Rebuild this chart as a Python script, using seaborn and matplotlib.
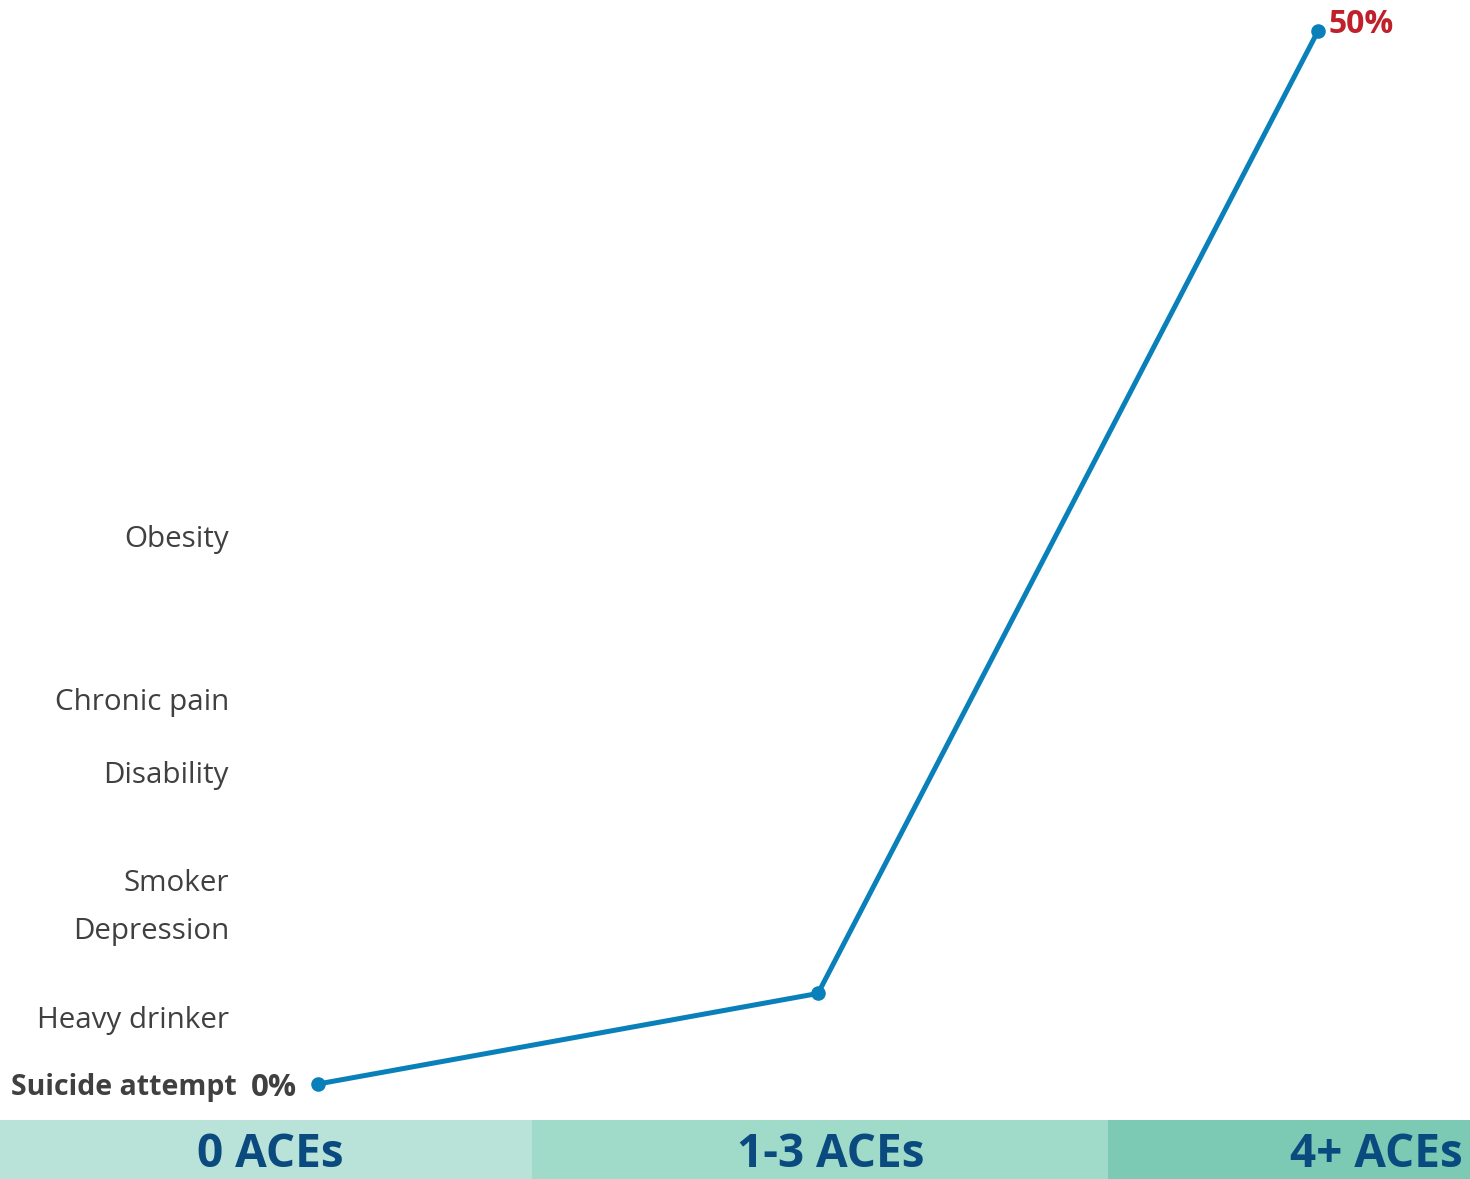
import matplotlib
matplotlib.use("Agg")
import matplotlib.pyplot as plt
import seaborn as sns
import pandas as pd

# ACE exposure groups and the prevalence line (percent)
groups = ["0 ACEs", "1-3 ACEs", "4+ ACEs"]
rates = [0.0, 4.3, 50.0]

# Outcome labels stacked along the left side at their percent level
outcomes = ["Obesity", "Chronic pain", "Disability", "Smoker",
            "Depression", "Heavy drinker", "Suicide attempt"]
outcome_levels = [26.0, 18.3, 14.8, 9.7, 7.4, 3.2, 0.0]

sns.set_theme(style="white")
plt.rcParams["font.family"] = ["Open Sans", "DejaVu Sans"]

LINE = "#0a80ba"
NAVY = "#0b4a7e"
GREY = "#404040"
RED = "#c0202a"
BANDS = ["#b9e3d8", "#a0dbc9", "#7dcab4"]

W, H = 1470, 1179
fig = plt.figure(figsize=(W / 100, H / 100), dpi=100)
ax = fig.add_axes([0, 0, 1, 1])

# pixel geometry: x step 500px starting at 318px; 0% at 1084px, 50% at 31px
px_per_pct = (1084 - 31) / 50.0
x0_px, step_px = 318, 500
ax.set_xlim(-x0_px / step_px, (W - x0_px) / step_px)
ax.set_ylim(-(H - 1084) / px_per_pct, 1084 / px_per_pct)

def px_to_x(px):
    return (px - x0_px) / step_px

df = pd.DataFrame({"pos": range(len(groups)), "rate": rates})
sns.lineplot(data=df, x="pos", y="rate", ax=ax, color=LINE, linewidth=3.6,
             marker="o", markersize=10.5, markeredgewidth=0, zorder=3)

# colored band along the bottom with group names
band_top = (H - 1120) / H
edges = [0, 532, 1108, W]
for i, c in enumerate(BANDS):
    ax.axvspan(px_to_x(edges[i]), px_to_x(edges[i + 1]), ymin=0, ymax=band_top,
               color=c, lw=0, zorder=1)

band_y = -(1167 - 1084) / px_per_pct
ax.text(px_to_x(270), band_y, groups[0], ha="center", va="baseline",
        fontsize=33, fontweight="bold", color=NAVY, zorder=4)
ax.text(px_to_x(831), band_y, groups[1], ha="center", va="baseline",
        fontsize=33, fontweight="bold", color=NAVY, zorder=4)
ax.text(px_to_x(1463), band_y, groups[2], ha="right", va="baseline",
        fontsize=33, fontweight="bold", color=NAVY, zorder=4)

# outcome labels
for name, lvl in zip(outcomes, outcome_levels):
    bold = name == "Suicide attempt"
    ax.text(px_to_x(237 if bold else 229), lvl, name, ha="right",
            va="center_baseline", fontsize=20.5 if bold else 21.3,
            fontweight="bold" if bold else "normal", color=GREY, zorder=4)

# endpoint value labels
ax.text(px_to_x(251), rates[0], f"{rates[0]:.0f}%", ha="left",
        va="center_baseline", fontsize=22.5, fontweight="bold", color=GREY)
ax.text(px_to_x(1328), rates[2] + 0.5, f"{rates[2]:.0f}%", ha="left",
        va="center_baseline", fontsize=23, fontweight="bold", color=RED)

ax.set_axis_off()
fig.savefig("out.png", dpi=100, facecolor="white")
